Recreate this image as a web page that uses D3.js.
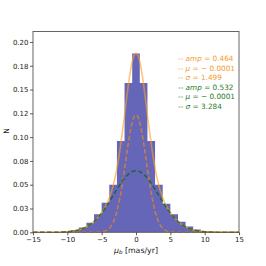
<!DOCTYPE html>
<html>
<head>
<meta charset="UTF-8">
<script src="https://cdn.jsdelivr.net/npm/d3@7"></script>
<style>
  body { margin: 0; background: #fff; }
  text { font-family: "DejaVu Sans", sans-serif; }
</style>
</head>
<body>
<script>
  // histogram bins: 27 bins over [-15, 15], density values
  const binEdgesRange = [-15, 15];
  const binCount = 27;
  const binValues = [0, 0.0001, 0.0002, 0.0004, 0.001, 0.0025, 0.005, 0.010, 0.019, 0.031, 0.050, 0.096, 0.157,
    0.188, 0.157, 0.096, 0.050, 0.030, 0.019, 0.011, 0.006, 0.003, 0.0012, 0.0005, 0.0002, 0.0001, 0];

  // fitted gaussian components (from legend)
  const fitAmp = [0.464, 0.532];
  const fitMu = [-0.0001, -0.0001];
  const fitSigma = [1.499, 3.284];
  const fitAmpLabels = ["0.464", "0.532"];
  const fitMuLabels = ["\u2212 0.0001", "\u2212 0.0001"];
  const fitSigmaLabels = ["1.499", "3.284"];

  const xTicks = [-15, -10, -5, 0, 5, 10, 15];
  const xTickLabels = ["\u221215", "\u221210", "\u22125", "0", "5", "10", "15"];
  const yTicks = [0, 0.025, 0.05, 0.075, 0.1, 0.125, 0.15, 0.175, 0.2];
  const yTickLabels = ["0.00", "0.03", "0.05", "0.08", "0.10", "0.12", "0.15", "0.18", "0.20"];

  const W = 266, H = 266;
  const mLeft = 33, mRight = 239, mTop = 31.5, mBottom = 232.3;

  const svg = d3.select("body").append("svg")
    .attr("width", W).attr("height", H);

  const x = d3.scaleLinear().domain([-15, 15]).range([mLeft, mRight]);
  const y = d3.scaleLinear().domain([0, 0.211]).range([mBottom, mTop]);

  const binW = (binEdgesRange[1] - binEdgesRange[0]) / binCount;

  // histogram as one stepped shape, so no seams between bars
  const steps = binValues.map((v, i) => [binEdgesRange[0] + i * binW, v]);
  steps.push([binEdgesRange[1], binValues[binValues.length - 1]]);
  const histArea = d3.area()
    .curve(d3.curveStepAfter)
    .x(d => x(d[0]))
    .y0(y(0))
    .y1(d => y(d[1]));
  svg.append("path")
    .attr("d", histArea(steps))
    .attr("fill", "#6666b9");

  function gauss(xv, k) {
    return fitAmp[k] / (fitSigma[k] * Math.sqrt(2 * Math.PI)) *
      Math.exp(-Math.pow(xv - fitMu[k], 2) / (2 * fitSigma[k] * fitSigma[k]));
  }

  const xs = d3.range(-15, 15.001, 0.05);
  const line = d3.line().x(d => x(d[0])).y(d => y(d[1]));

  // total fit
  svg.append("path")
    .attr("d", line(xs.map(v => [v, gauss(v, 0) + gauss(v, 1)])))
    .attr("fill", "none")
    .attr("stroke", "#ffa020")
    .attr("stroke-opacity", 0.6)
    .attr("stroke-width", 1.6);

  // components
  svg.append("path")
    .attr("d", line(xs.map(v => [v, gauss(v, 0)])))
    .attr("fill", "none")
    .attr("stroke", "#ff8c00")
    .attr("stroke-opacity", 0.65)
    .attr("stroke-width", 1.5)
    .attr("stroke-dasharray", "4.5,2.5");

  svg.append("path")
    .attr("d", line(xs.map(v => [v, gauss(v, 1)])))
    .attr("fill", "none")
    .attr("stroke", "#006400")
    .attr("stroke-opacity", 0.7)
    .attr("stroke-width", 1.5)
    .attr("stroke-dasharray", "4.5,2.5");

  // frame
  svg.append("rect")
    .attr("x", mLeft).attr("y", mTop)
    .attr("width", mRight - mLeft).attr("height", mBottom - mTop)
    .attr("fill", "none").attr("stroke", "#555").attr("stroke-width", 0.9);

  // axes
  const xAxis = d3.axisBottom(x).tickValues(xTicks)
    .tickFormat((d, i) => xTickLabels[i]).tickSize(3).tickPadding(1.5);
  const gx = svg.append("g").attr("transform", "translate(0," + mBottom + ")").call(xAxis);
  const yAxis = d3.axisLeft(y).tickValues(yTicks)
    .tickFormat((d, i) => yTickLabels[i]).tickSize(3).tickPadding(1.5);
  const gy = svg.append("g").attr("transform", "translate(" + mLeft + ",0)").call(yAxis);
  [gx, gy].forEach(g => {
    g.select(".domain").remove();
    g.selectAll("line").attr("stroke", "#333").attr("stroke-width", 0.8);
    g.selectAll("text").attr("fill", "#222").style("font-size", "7px")
      .style("font-family", "'DejaVu Sans', sans-serif");
  });

  // axis labels
  const xl = svg.append("text")
    .attr("x", 136).attr("y", 252.5)
    .attr("text-anchor", "middle").style("font-size", "7.8px").attr("fill", "#222");
  xl.append("tspan").attr("font-style", "italic").text("\u03bc");
  xl.append("tspan").attr("font-style", "italic").attr("dy", 1.8).style("font-size", "5.5px").text("b");
  xl.append("tspan").attr("dy", -1.8).text(" [mas/yr]");

  svg.append("text")
    .attr("transform", "translate(9,131) rotate(-90)")
    .attr("text-anchor", "middle").style("font-size", "7.5px").attr("fill", "#222")
    .text("N");

  // legend text
  const legendColors = ["#f59a2a", "#2a7a2a"];
  const legendX = 178, legendY0 = 61, legendStep = 9.6;
  let row = 0;
  for (let k = 0; k < 2; k++) {
    const items = [
      ["amp", fitAmpLabels[k]],
      ["\u03bc", fitMuLabels[k]],
      ["\u03c3", fitSigmaLabels[k]]
    ];
    items.forEach(it => {
      const t = svg.append("text")
        .attr("x", legendX).attr("y", legendY0 + row * legendStep)
        .attr("fill", legendColors[k]).style("font-size", "7.3px");
      t.append("tspan").text("-- ");
      t.append("tspan").attr("font-style", "italic").text(it[0]);
      t.append("tspan").text(" = " + it[1]);
      row++;
    });
  }
</script>
</body>
</html>
